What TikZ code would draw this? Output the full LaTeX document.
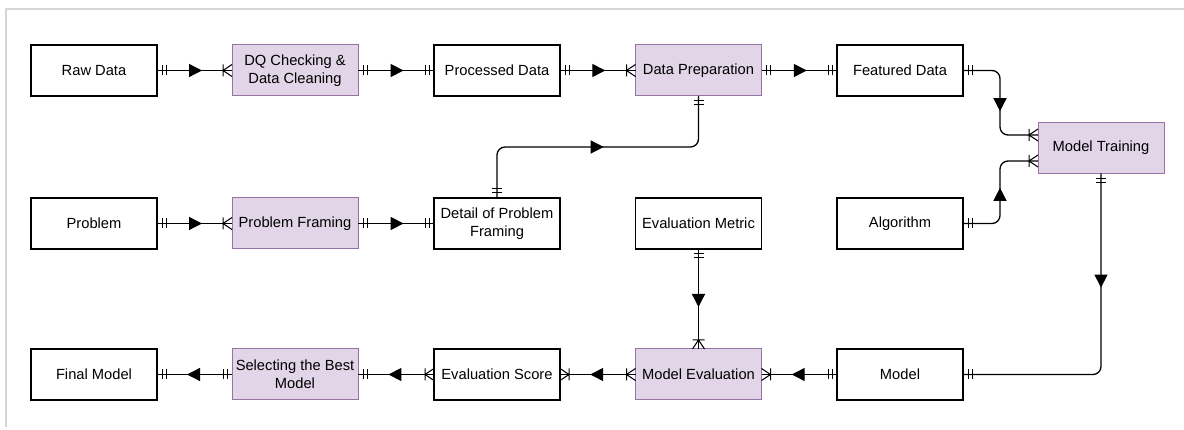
\documentclass[tikz,border=0pt]{standalone}
\usepackage{fontspec}
\setmainfont{Liberation Sans}
\usetikzlibrary{arrows.meta,decorations.markings}
\definecolor{stepfill}{HTML}{E1D5E7}
\definecolor{stepline}{HTML}{9673A6}
\definecolor{framegray}{HTML}{D6D6D6}
\tikzset{
  ent/.style={draw=black,line width=1.3pt,fill=white,minimum width=126pt,minimum height=51pt,
    inner sep=1pt,outer sep=0pt,align=center,font=\fontsize{14.7pt}{17.6pt}\selectfont},
  proc/.style={ent,draw=stepline,line width=1pt,fill=stepfill},
  rel/.style={line width=1.3pt,rounded corners=8pt},
  tick/.style={line width=1pt,sharp corners},
  oneA/.style={postaction={decorate,decoration={markings,
    mark=at position 5pt with {\draw[tick] (0,-5pt) -- (0,5pt);},
    mark=at position 9pt with {\draw[tick] (0,-5pt) -- (0,5pt);}}}},
  oneB/.style={postaction={decorate,decoration={markings,
    mark=at position -9pt with {\draw[tick] (0,-5pt) -- (0,5pt);},
    mark=at position -5pt with {\draw[tick] (0,-5pt) -- (0,5pt);}}}},
  manyA/.style={postaction={decorate,decoration={markings,
    mark=at position 9pt with {\draw[tick] (0,-6pt) -- (0,6pt) (-9pt,6pt) -- (0,0) -- (-9pt,-6pt);}}}},
  manyB/.style={postaction={decorate,decoration={markings,
    mark=at position -9pt with {\draw[tick] (0,-6pt) -- (0,6pt) (9pt,6pt) -- (0,0) -- (9pt,-6pt);}}}},
  flowto/.style={postaction={decorate,decoration={markings,
    mark=at position #1 with {\arrow{Triangle[length=13pt,width=13pt]}}}}},
  flowto/.default=0.6
}
\begin{document}
\begin{tikzpicture}[x=1pt,y=-1pt]
\useasboundingbox (0,0) rectangle (1184,430);
\draw[framegray,line width=2pt] (6,427) -- (6,9) -- (1184,9);
\node[ent] (raw) at (94,70.5) {Raw Data};
\node[proc] (clean) at (295,70.5) {DQ Checking \&\\Data Cleaning};
\node[ent] (processed) at (497,70.5) {Processed Data};
\node[proc] (prep) at (698.5,70.5) {Data Preparation};
\node[ent] (featured) at (900,70.5) {Featured Data};
\node[proc] (train) at (1101,148) {Model Training};
\node[ent] (problem) at (94,223.5) {Problem};
\node[proc] (framing) at (295,223.5) {Problem Framing};
\node[ent] (detail) at (497,223.5) {Detail of Problem\\Framing};
\node[ent] (metric) at (698.5,223.5) {Evaluation Metric};
\node[ent] (algo) at (900,223.5) {Algorithm};
\node[ent] (final) at (94,374.5) {Final Model};
\node[proc] (select) at (295,374.5) {Selecting the Best\\Model};
\node[ent] (score) at (497,374.5) {Evaluation Score};
\node[proc] (evaluate) at (698.5,374.5) {Model Evaluation};
\node[ent] (model) at (900,374.5) {Model};
\draw[rel,oneA,manyB,flowto] (raw.east) -- (clean.west);
\draw[rel,oneA,oneB,flowto] (clean.east) -- (processed.west);
\draw[rel,oneA,manyB,flowto] (processed.east) -- (prep.west);
\draw[rel,oneA,oneB,flowto] (prep.east) -- (featured.west);
\draw[rel,oneA,manyB,flowto=0.56] (featured.east) -- ++(37,0) |- ([yshift=13pt]train.west);
\draw[rel,oneA,manyB,flowto=0.53] (algo.east) -- ++(37,0) |- ([yshift=-13pt]train.west);
\draw[rel,oneA,oneB,flowto=0.34] (train.south) |- (model.east);
\draw[rel,oneA,manyB,flowto] (model.west) -- (evaluate.east);
\draw[rel,manyA,manyB,flowto] (evaluate.west) -- (score.east);
\draw[rel,manyA,oneB,flowto] (score.west) -- (select.east);
\draw[rel,oneA,oneB,flowto] (select.west) -- (final.east);
\draw[rel,oneA,manyB,flowto=0.58] (metric.south) -- (evaluate.north);
\draw[rel,oneA,manyB,flowto] (problem.east) -- (framing.west);
\draw[rel,oneA,oneB,flowto] (framing.east) -- (detail.west);
\draw[rel,oneA,oneB,flowto=0.52] (detail.north) -- ++(0,-51) -| (prep.south);
\end{tikzpicture}
\end{document}
